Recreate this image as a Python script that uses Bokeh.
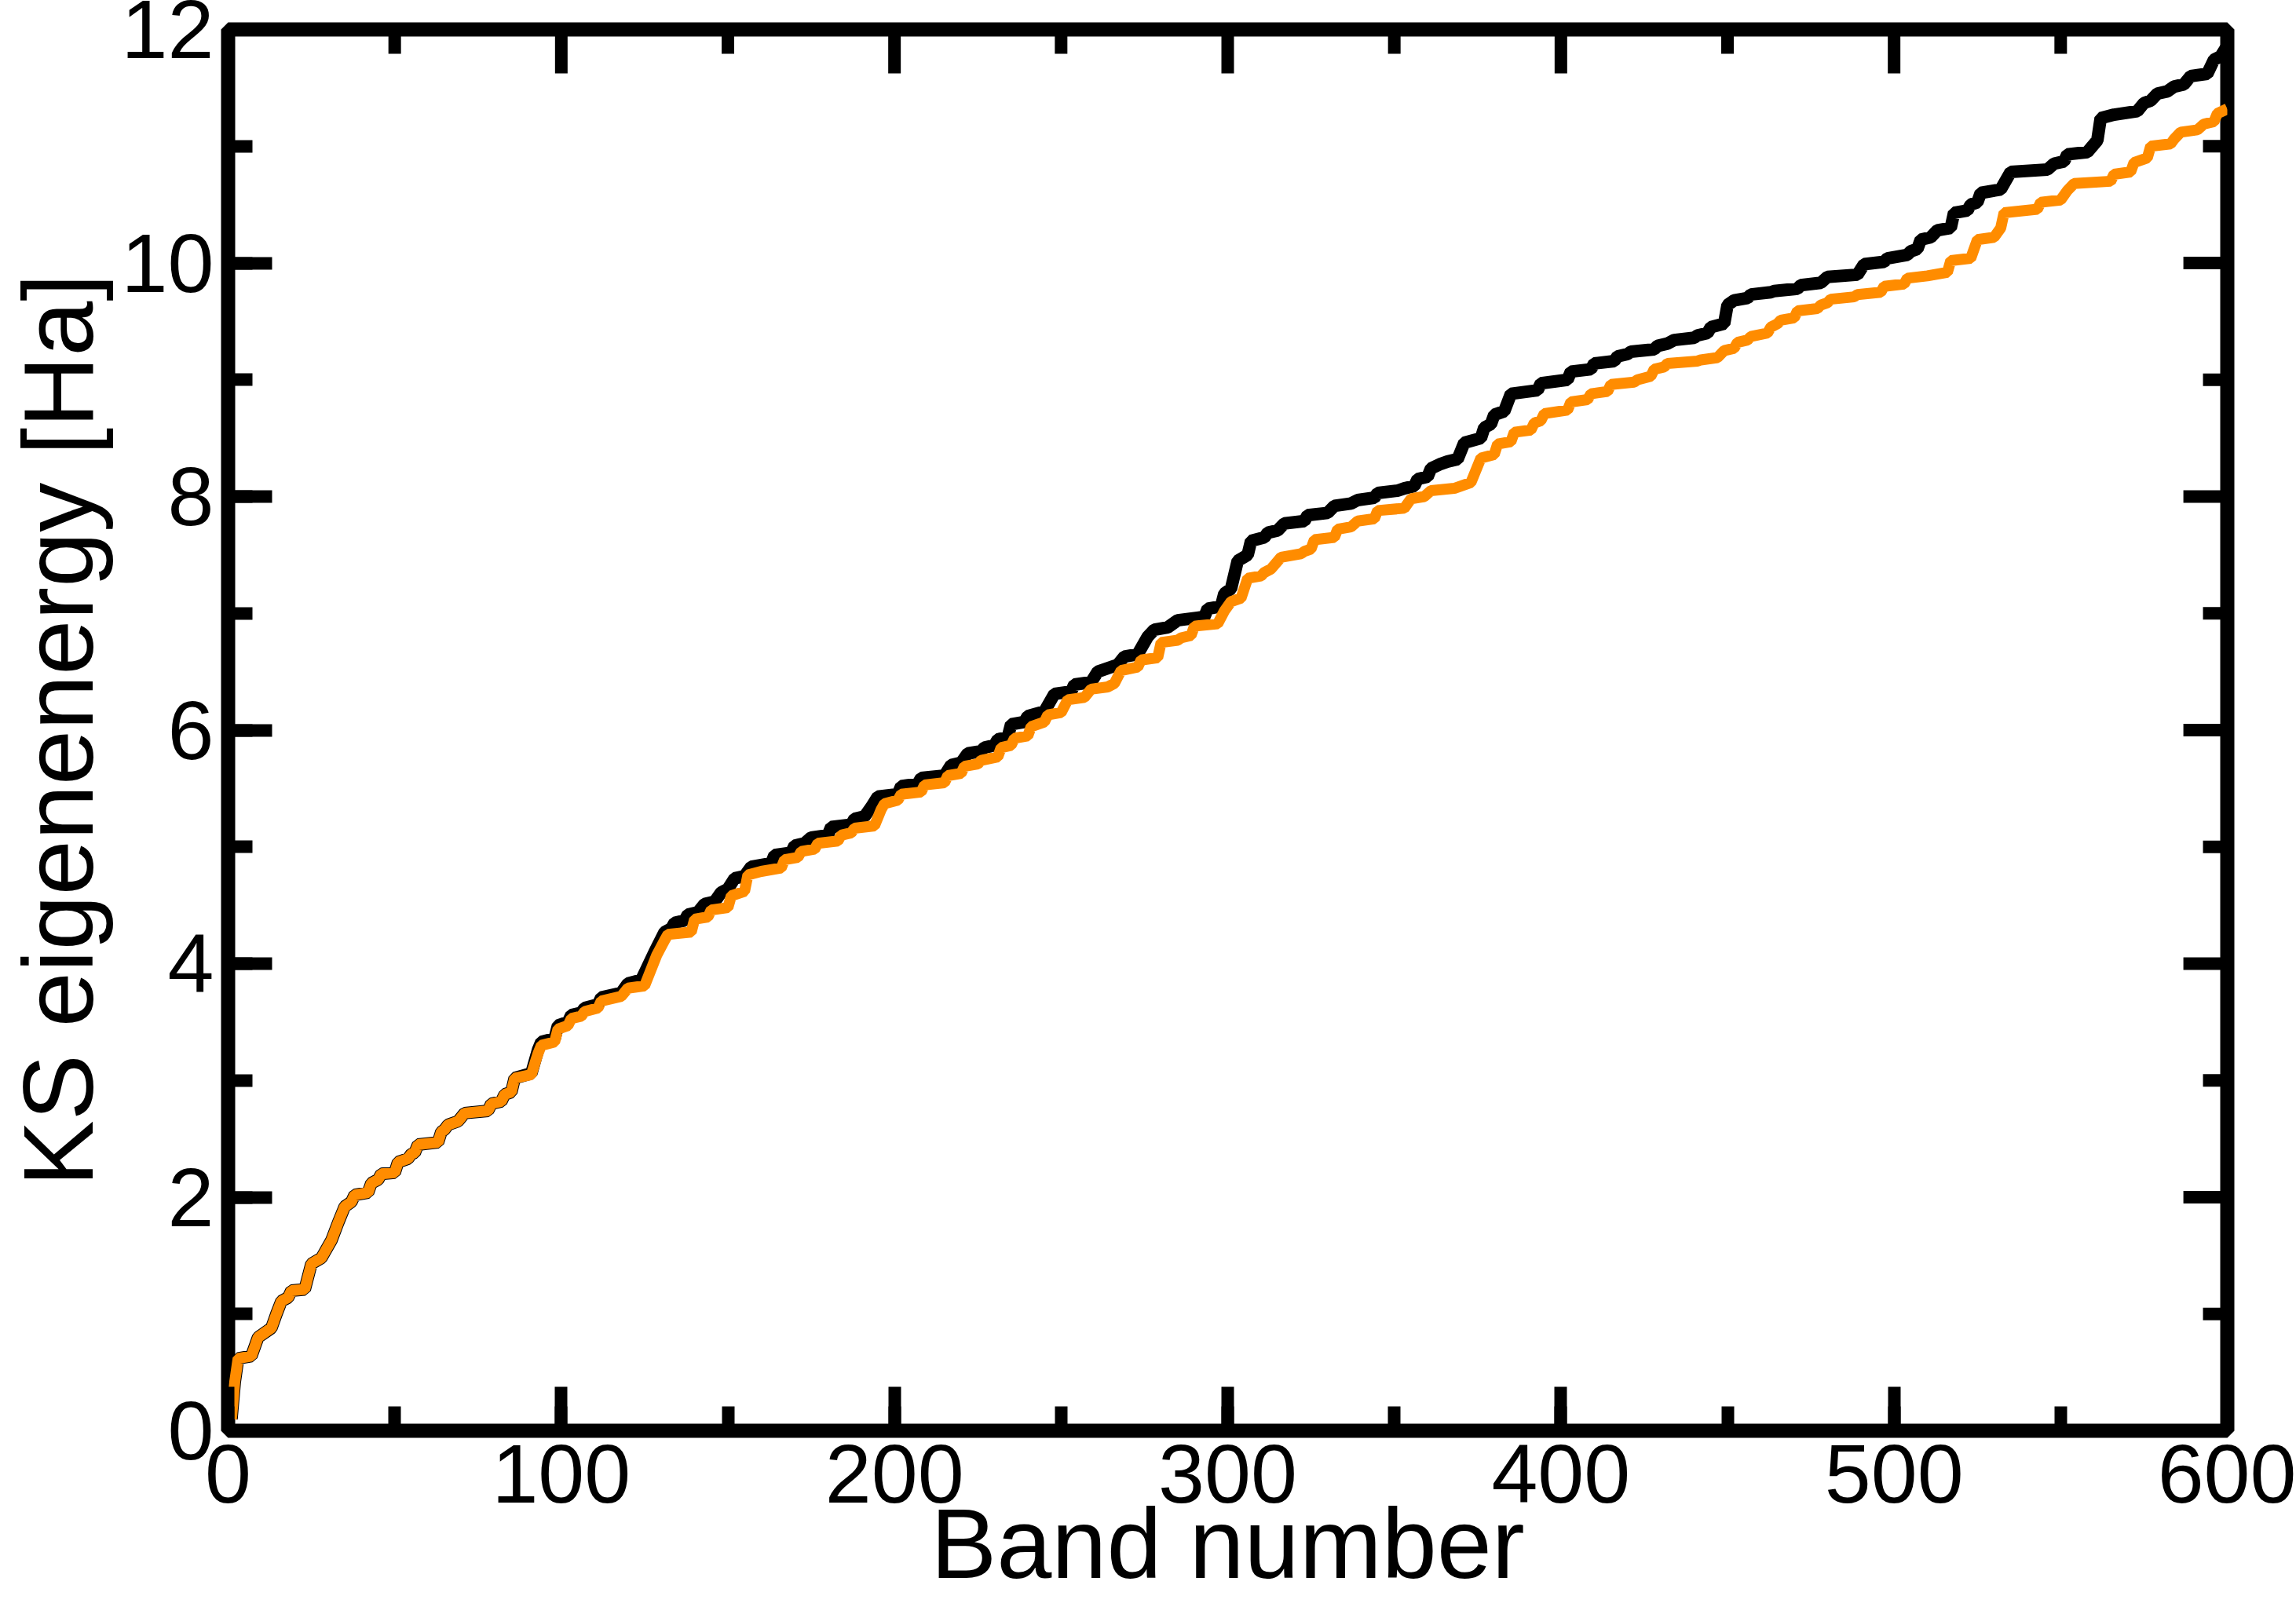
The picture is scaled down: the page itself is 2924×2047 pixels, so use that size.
from bokeh.plotting import figure
from bokeh.models import Range1d, SingleIntervalTicker
from bokeh.embed import file_html
from bokeh.resources import INLINE

# ---- data (band number, KS eigenenergy in Ha) ----
orange_band = [1, 2, 3, 7, 9, 12, 13, 14.5, 16, 18, 19, 23, 25, 28, 31, 33, 35, 37, 38, 42,
               43, 45, 46, 50, 51, 54, 55, 56, 57, 63, 64, 65, 66, 69, 71, 78, 79, 82, 83, 85,
               86, 91, 93, 94, 98, 99, 102, 103, 106, 107, 111, 112, 118, 120, 125, 128.6, 131, 132, 139, 140,
               144, 145, 150, 151, 155, 156, 160, 166, 167, 171, 172, 176, 177, 183, 184, 187, 188, 194, 196, 197,
               201, 202, 208, 209, 215, 216, 220, 221, 225, 226, 231, 232, 235, 236, 240, 241, 245, 246, 250, 252,
               257, 259, 264, 266, 268, 273, 274, 279, 280, 285, 286, 289, 290, 297, 299, 301, 304, 306, 310, 311,
               313, 316, 322, 323, 325, 326, 332, 333, 337, 339, 344, 345, 353, 355, 359, 361, 368, 373, 376, 380,
               381, 385, 386, 391, 392, 394, 395, 402, 403, 408, 409, 414, 415, 422, 423, 427, 428, 431, 432, 441,
               442, 447, 449, 452, 453, 456, 457, 462, 463, 465, 466, 470, 471, 477, 478, 480, 481, 488, 489, 496,
               497, 503, 504, 510, 516, 517, 523, 525, 530, 532, 533, 543, 544, 550, 552, 554, 565, 566, 571, 572,
               576, 577, 583, 584, 586, 591, 593, 596, 597, 600]
orange_e = [0.10, 0.42, 0.62, 0.64, 0.80, 0.86, 0.88, 1.00, 1.11, 1.14, 1.20, 1.21, 1.43, 1.48, 1.63, 1.78, 1.92, 1.96, 2.02, 2.04,
            2.12, 2.15, 2.20, 2.21, 2.30, 2.33, 2.37, 2.38, 2.45, 2.47, 2.56, 2.58, 2.62, 2.65, 2.72, 2.74, 2.80, 2.82, 2.88, 2.90,
            3.02, 3.05, 3.23, 3.30, 3.33, 3.44, 3.47, 3.53, 3.55, 3.59, 3.62, 3.68, 3.72, 3.79, 3.81, 4.07, 4.20, 4.25, 4.27, 4.38,
            4.40, 4.46, 4.48, 4.58, 4.62, 4.76, 4.79, 4.82, 4.89, 4.91, 4.96, 4.98, 5.03, 5.05, 5.10, 5.12, 5.16, 5.18, 5.32, 5.37,
            5.40, 5.45, 5.47, 5.53, 5.55, 5.61, 5.63, 5.69, 5.71, 5.74, 5.77, 5.85, 5.87, 5.93, 5.95, 6.03, 6.07, 6.13, 6.15, 6.26,
            6.28, 6.35, 6.37, 6.40, 6.51, 6.54, 6.60, 6.62, 6.75, 6.77, 6.79, 6.81, 6.89, 6.91, 7.02, 7.10, 7.13, 7.30, 7.32, 7.35,
            7.38, 7.48, 7.51, 7.53, 7.55, 7.63, 7.65, 7.72, 7.74, 7.79, 7.81, 7.88, 7.90, 7.98, 8.00, 8.05, 8.07, 8.12, 8.33, 8.36,
            8.45, 8.47, 8.55, 8.57, 8.63, 8.65, 8.71, 8.74, 8.81, 8.83, 8.88, 8.90, 8.96, 8.98, 9.00, 9.03, 9.09, 9.11, 9.14, 9.16,
            9.17, 9.19, 9.25, 9.27, 9.32, 9.34, 9.37, 9.40, 9.45, 9.48, 9.51, 9.53, 9.59, 9.61, 9.64, 9.66, 9.69, 9.71, 9.73, 9.75,
            9.80, 9.82, 9.87, 9.89, 9.92, 10.02, 10.04, 10.20, 10.22, 10.30, 10.43, 10.46, 10.52, 10.54, 10.62, 10.68, 10.70, 10.76, 10.78, 10.86,
            10.90, 11.00, 11.02, 11.06, 11.12, 11.14, 11.19, 11.21, 11.28, 11.32]

black_band = [1, 2, 3, 7, 9, 12, 13, 14.5, 16, 18, 19, 23, 25, 28, 31, 33, 35, 37, 38, 42,
              43, 45, 46, 50, 51, 54, 55, 56, 57, 63, 64, 65, 66, 69, 71, 78, 79, 82, 83, 85,
              86, 91, 93, 94, 98, 99, 102, 103, 106, 107, 111, 112, 118, 120, 124, 128, 131, 133, 134, 137,
              138, 141, 143, 146, 148, 150, 152, 155, 157, 163, 164, 169, 170, 173, 175, 180, 181, 187, 188, 191,
              193, 195, 201, 202, 207, 208, 215, 217, 220, 222, 226, 227, 230, 231, 234, 235, 239, 240, 245, 248,
              253, 254, 259, 261, 267, 269, 273, 276, 278, 282, 285, 293, 294, 298, 299, 301, 303, 306, 307, 311,
              312, 315, 317, 323, 324, 330, 332, 337, 339, 344, 345, 351, 353, 356, 357, 360, 361, 364, 366, 369,
              371, 376, 377, 379, 380, 383, 385, 393, 394, 402, 403, 409, 410, 416, 417, 420, 421, 428, 429, 432,
              434, 440, 441, 444, 445, 449, 450, 452, 456, 457, 463, 464, 471, 472, 478, 480, 489, 491, 497, 498,
              504, 505, 507, 508, 511, 513, 517, 518, 522, 523, 525, 526, 532, 535, 546, 548, 551, 552, 558, 561,
              562, 566, 573, 575, 577, 579, 582, 584, 587, 589, 594, 596, 598, 600]
black_e = [0.10, 0.42, 0.62, 0.64, 0.80, 0.86, 0.88, 1.00, 1.11, 1.14, 1.20, 1.21, 1.43, 1.48, 1.63, 1.78, 1.92, 1.96, 2.02, 2.04,
           2.12, 2.15, 2.20, 2.21, 2.30, 2.33, 2.37, 2.38, 2.45, 2.47, 2.56, 2.58, 2.62, 2.65, 2.72, 2.74, 2.80, 2.82, 2.88, 2.90,
           3.02, 3.06, 3.26, 3.33, 3.36, 3.47, 3.50, 3.56, 3.58, 3.62, 3.65, 3.71, 3.75, 3.83, 3.86, 4.10, 4.27, 4.30, 4.35, 4.37,
           4.42, 4.44, 4.51, 4.53, 4.61, 4.64, 4.73, 4.75, 4.83, 4.86, 4.93, 4.95, 5.01, 5.03, 5.08, 5.10, 5.17, 5.19, 5.24, 5.26,
           5.34, 5.43, 5.45, 5.52, 5.54, 5.59, 5.61, 5.70, 5.72, 5.80, 5.82, 5.85, 5.87, 5.92, 5.94, 6.05, 6.07, 6.12, 6.16, 6.31,
           6.33, 6.39, 6.41, 6.50, 6.56, 6.63, 6.65, 6.80, 6.86, 6.88, 6.94, 6.97, 7.04, 7.06, 7.17, 7.21, 7.45, 7.50, 7.62, 7.65,
           7.69, 7.71, 7.77, 7.79, 7.84, 7.86, 7.92, 7.94, 7.97, 7.99, 8.03, 8.05, 8.07, 8.09, 8.15, 8.17, 8.24, 8.28, 8.30, 8.32,
           8.46, 8.50, 8.59, 8.62, 8.70, 8.73, 8.88, 8.91, 8.97, 9.00, 9.07, 9.09, 9.14, 9.16, 9.20, 9.22, 9.24, 9.26, 9.29, 9.31,
           9.34, 9.36, 9.38, 9.40, 9.45, 9.48, 9.64, 9.68, 9.70, 9.73, 9.75, 9.76, 9.78, 9.81, 9.83, 9.88, 9.90, 9.99, 10.01, 10.04,
           10.07, 10.10, 10.12, 10.20, 10.22, 10.28, 10.30, 10.43, 10.45, 10.50, 10.52, 10.60, 10.63, 10.78, 10.80, 10.85, 10.87, 10.93, 10.95, 11.05,
           11.24, 11.27, 11.30, 11.37, 11.39, 11.45, 11.47, 11.51, 11.53, 11.60, 11.62, 11.74, 11.77, 11.86]

x_title = "Band number"
y_title = "KS eigenenergy [Ha]"
x_min, x_max, x_step = 0, 600, 100
y_min, y_max, y_step = 0, 12, 2
x_ticks_major = list(range(x_min, x_max + 1, x_step))
x_ticks_minor = list(range(x_min + x_step // 2, x_max, x_step))
y_ticks_major = list(range(y_min, y_max + 1, y_step))
y_ticks_minor = list(range(y_min + y_step // 2, y_max, y_step))

# ---- layout (pixels) ----
W, H = 2924, 2047
LEFT, RIGHT, TOP, BOTTOM = 286, 88, 37, 225
FW = W - LEFT - RIGHT
FH = H - TOP - BOTTOM
FONT = "Liberation Sans"
MAJ, MIN = 56, 31          # tick lengths (px)
FRAME_W, TICK_W = 18, 16   # line widths
BLACK_W, ORANGE_W = 16, 14

p = figure(width=W, height=H, x_range=Range1d(x_min, x_max), y_range=Range1d(y_min, y_max),
           output_backend="svg", toolbar_location=None,
           min_border_left=LEFT, min_border_right=RIGHT, min_border_top=TOP, min_border_bottom=BOTTOM)
p.grid.visible = False
p.background_fill_color = "white"
p.border_fill_color = "white"
p.outline_line_color = "black"
p.outline_line_width = FRAME_W
p.outline_line_alpha = 1.0


def style_axis(ax):
    ax.axis_line_color = None
    ax.major_tick_in = MAJ
    ax.major_tick_out = 0
    ax.minor_tick_in = MIN
    ax.minor_tick_out = 0
    ax.major_tick_line_width = TICK_W
    ax.minor_tick_line_width = TICK_W
    ax.major_tick_line_color = "black"
    ax.minor_tick_line_color = "black"
    ax.major_label_text_font = FONT
    ax.major_label_text_font_size = "106px"
    ax.major_label_text_color = "black"
    ax.axis_label_text_font = FONT
    ax.axis_label_text_font_size = "126px"
    ax.axis_label_text_font_style = "normal"
    ax.axis_label_text_color = "black"


xb = p.xaxis[0]
xb.ticker = SingleIntervalTicker(interval=x_step, num_minor_ticks=2)
style_axis(xb)
xb.major_label_standoff = 18
xb.axis_label = x_title
xb.axis_label_standoff = -21

yl = p.yaxis[0]
yl.ticker = SingleIntervalTicker(interval=y_step, num_minor_ticks=2)
style_axis(yl)
yl.major_label_standoff = 18
yl.axis_label = y_title
yl.axis_label_standoff = 7

# ticks on the top and right edges of the frame (no labels there)
px_x = (x_max - x_min) / FW
px_y = (y_max - y_min) / FH
for ticks, length in ((x_ticks_major, MAJ), (x_ticks_minor, MIN)):
    p.segment(x0=ticks, y0=[y_max] * len(ticks), x1=ticks, y1=[y_max - length * px_y] * len(ticks),
              line_color="black", line_width=TICK_W, line_cap="butt")
for ticks, length in ((y_ticks_major, MAJ), (y_ticks_minor, MIN)):
    p.segment(x0=[x_max] * len(ticks), y0=ticks, x1=[x_max - length * px_x] * len(ticks), y1=ticks,
              line_color="black", line_width=TICK_W, line_cap="butt")

p.line(black_band, black_e, line_color="black", line_width=BLACK_W)
p.line(orange_band, orange_e, line_color="#FF8C00", line_width=ORANGE_W)

open("out.html", "w").write(file_html(p, INLINE))
